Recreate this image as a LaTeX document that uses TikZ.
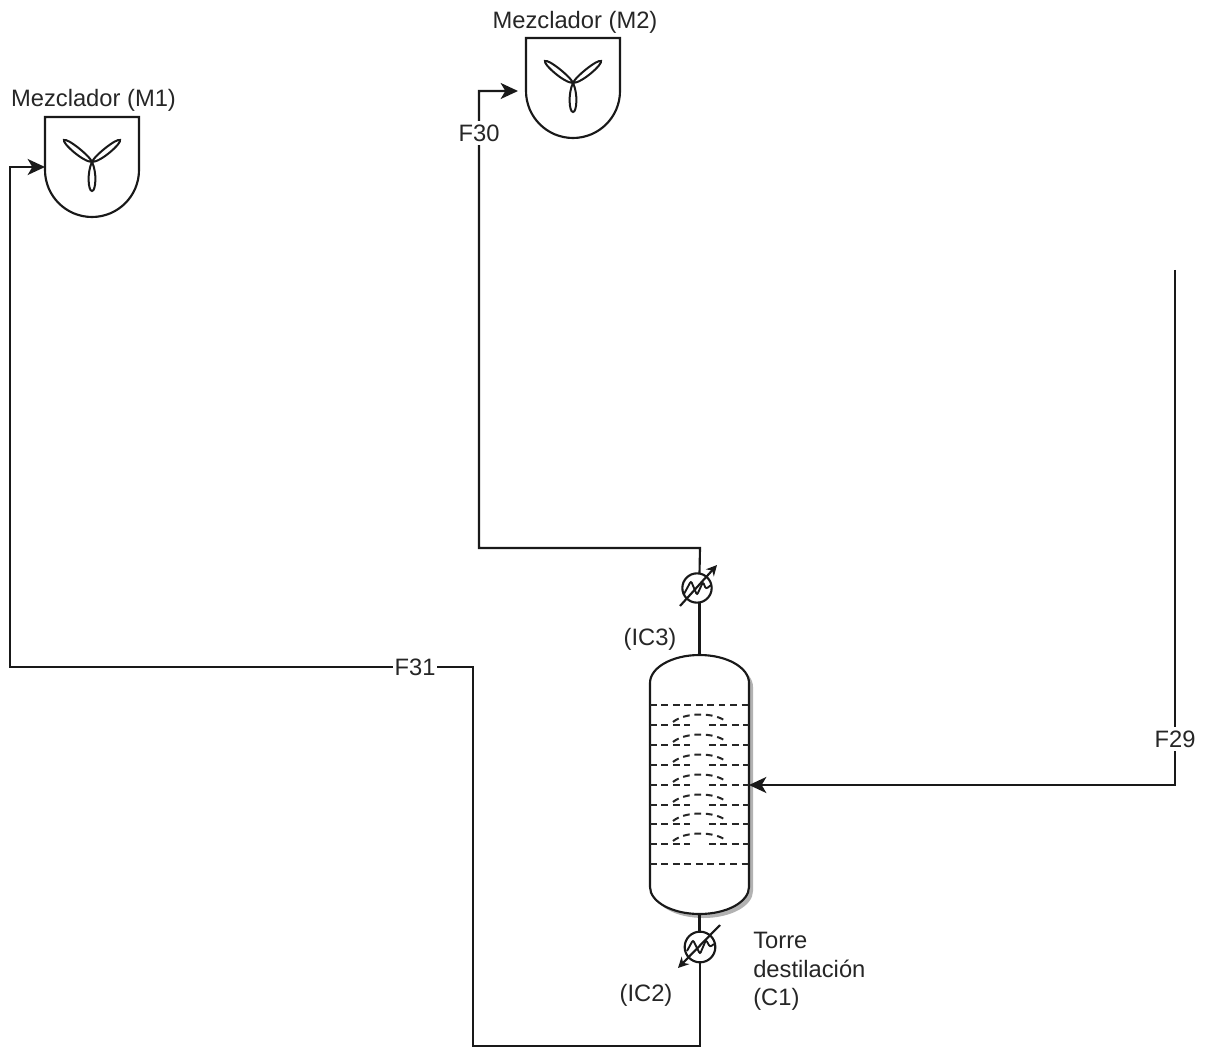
\documentclass[tikz,border=0pt]{standalone}
\usepackage{fontspec}
\setmainfont{Liberation Sans}
\usetikzlibrary{arrows.meta}
\tikzset{
  pipe/.style={line width=1.6pt,draw=black!90,line join=miter},
  flow/.style={pipe,-{Stealth[length=13pt,width=12pt,inset=3.5pt]}},
  lbl/.style={font=\fontsize{17.8}{21.4}\selectfont,text=black!85,inner sep=0pt},
  tag/.style={lbl,fill=white,inner xsep=1.5pt,inner ysep=3pt},
  vessel/.style={draw=none,inner sep=0pt,outer sep=0pt},
  hxbody/.style={circle,draw=black!90,line width=1.6pt,fill=white,inner sep=0pt,outer sep=0pt},
  tray/.style={line width=1.5pt,draw=black!85,dash pattern=on 5pt off 3.6pt},
  wave/.style={line width=1.4pt,draw=black!90,rounded corners=1.5pt},
  thin part/.style={line width=1.5pt,draw=black!90},
  pics/mixerbody/.style={code={
    \draw[pipe] (-47,-50) -- (47,-50) -- (47,3) arc[start angle=0,end angle=180,radius=47] -- cycle;
    \draw[thin part] (0,-5) .. controls (-5,5) and (-4,24) .. (0,24) .. controls (4,24) and (5,5) .. (0,-5);
    \draw[thin part] (0,-5) .. controls (-2,-11) and (-24.5,-29) .. (-28,-27) .. controls (-30,-24) and (-9,-5) .. (0,-5);
    \draw[thin part] (0,-5) .. controls (2,-11) and (24.5,-29) .. (28,-27) .. controls (30,-24) and (9,-5) .. (0,-5);
  }},
}
\begin{document}
\begin{tikzpicture}[x=0.75pt,y=-0.75pt]
\useasboundingbox (0,0) rectangle (1205,1048);
\fill[white] (0,0) rectangle (1205,1048);

% named placeholders
\node[vessel,minimum width=74.25pt,minimum height=194.25pt] (C1) at (699.5,784.5) {};
\node[vessel,minimum width=70.5pt,minimum height=75pt] (M1) at (92,167) {};
\node[vessel,minimum width=70.5pt,minimum height=75pt] (M2) at (573,88) {};
\coordinate (m2in) at (518,91);
\coordinate (f29start) at (1175,270);

% shadow of the column
\fill[black!30] (654,687) arc[start angle=180,end angle=360,x radius=49.5,y radius=28] -- (753,891)
  arc[start angle=0,end angle=180,x radius=49.5,y radius=27] -- cycle;
% column
\draw[pipe,fill=white] (650,683) arc[start angle=180,end angle=360,x radius=49.5,y radius=28]
  -- (749,887) arc[start angle=0,end angle=180,x radius=49.5,y radius=27] -- cycle;
\draw[tray] (650,705) -- (749,705);
\draw[tray] (650,864) -- (749,864);
\foreach \yy in {725,745,765,785,805,824,844}{
  \draw[tray] (650,\yy) -- (690,\yy);
  \draw[tray] (709,\yy) -- (749,\yy);
  \draw[tray] (673,\yy-3) .. controls (685,\yy-13) and (715,\yy-13) .. (727,\yy-3);
}

% mixers
\pic at (M1) {mixerbody};
\pic at (M2) {mixerbody};

% exchangers
\node[hxbody,minimum size=22pt] (IC3) at (697,588) {};
\node[hxbody,minimum size=23pt] (IC2) at (700,947) {};

% connectors
\draw[flow] (f29start) -- (1175,785) -- (C1.east |- 1175,785);
\draw[pipe] (C1.north) -- (C1.north |- IC3.south);
\draw[flow] (C1.north |- IC3.north) -- (700,548) -- (479,548) -- (479,91) -- (m2in);
\draw[pipe] (C1.south) -- (C1.south |- IC2.north);
\draw[flow] (IC2.south) -- (700,1046) -- (473,1046) -- (473,667) -- (10,667) -- (10,167) -- (M1.west);

% exchanger internals
\draw[wave] (684,594) -- (691,581) -- (697,595) -- (703,582) -- (706,589) -- (711,585);
\draw[pipe,-{Stealth[length=8pt,width=8pt]}] (680,606) -- (717,565);
\draw[wave] (687,951) -- (693,940) -- (700,954) -- (706,940) -- (710,947) -- (714,944);
\draw[pipe,-{Stealth[length=8pt,width=8pt]}] (720,925) -- (678,968);

% labels
\node[lbl] (tM1) at (93.5,100) {Mezclador (M1)};
\node[lbl] (tM2) at (575,22) {Mezclador (M2)};
\node[tag] (F30) at (479,133) {F30};
\node[tag] (F31) at (415,667) {F31};
\node[tag] (F29) at (1175,739) {F29};
\node[lbl] (tIC3) at (650,639) {(IC3)};
\node[lbl] (tIC2) at (646,995) {(IC2)};
\node[lbl,align=left,anchor=north west] (tC1) at (753,932) {Torre\\destilación\\(C1)};
\end{tikzpicture}
\end{document}
